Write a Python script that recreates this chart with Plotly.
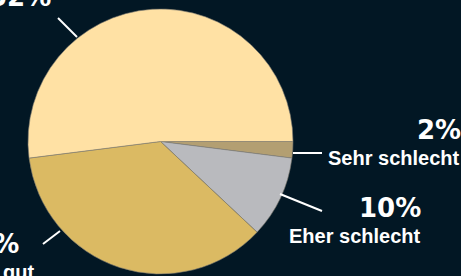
import plotly.graph_objects as go

# ---- data ----
categories = ["Sehr schlecht", "Eher schlecht", "Eher gut", "Sehr gut"]
shares = [2, 10, 36, 52]
pct_labels = ["2%", "10%", "36%", "52%"]
slice_colors = ["#B39F72", "#B9BABE", "#DBBA63", "#FFE1A4"]

W, H = 461, 276
BG = "#021724"

# label layout (pixel positions: right edge x, baseline y) - styling only
pct_pos = {"Sehr schlecht": (463, 139), "Eher schlecht": (423, 217),
           "Eher gut": (21, 253), "Sehr gut": (53, 6)}
name_pos = {"Sehr schlecht": (462, 165), "Eher schlecht": (423, 243),
            "Eher gut": (36, 279), "Sehr gut": (53, -20)}
leader = {"Sehr schlecht": ((293, 153), (322, 153)),
          "Eher schlecht": ((280, 194), (322, 211)),
          "Eher gut": ((60, 231), (43, 244)),
          "Sehr gut": ((77, 37), (58, 18))}

def px(x):
    return x / W

def py(y):
    return 1 - y / H

fig = go.Figure(go.Pie(
    labels=categories, values=shares, sort=False, direction="clockwise",
    rotation=90, textinfo="none", hoverinfo="none",
    marker=dict(colors=slice_colors, line=dict(color="#7d7a70", width=0.6)),
    domain=dict(x=[px(28), px(293)], y=[py(274), py(9)]),
    showlegend=False,
))

PCT_SIZE, NAME_SIZE = 26, 20
for cat, p in zip(categories, pct_labels):
    xr, yb = pct_pos[cat]
    fig.add_annotation(x=px(xr), y=py(yb - 0.35 * PCT_SIZE), xref="paper", yref="paper",
                       text=p, showarrow=False, xanchor="right", yanchor="middle",
                       font=dict(family="DejaVu Sans", size=PCT_SIZE, color="white", weight="bold"))
    xr, yb = name_pos[cat]
    fig.add_annotation(x=px(xr), y=py(yb - 0.35 * NAME_SIZE), xref="paper", yref="paper",
                       text=cat, showarrow=False, xanchor="right", yanchor="middle",
                       font=dict(family="Liberation Sans", size=NAME_SIZE, color="white", weight="bold"))
    (x0, y0), (x1, y1) = leader[cat]
    fig.add_shape(type="line", xref="paper", yref="paper",
                  x0=px(x0), y0=py(y0), x1=px(x1), y1=py(y1),
                  line=dict(color="white", width=2))

fig.update_layout(width=W, height=H, margin=dict(l=0, r=0, t=0, b=0),
                  paper_bgcolor=BG, plot_bgcolor=BG)
fig.write_html("out.html", config={"displayModeBar": False},
               post_script="document.body.style.margin='0';document.body.style.background='%s';" % BG)
